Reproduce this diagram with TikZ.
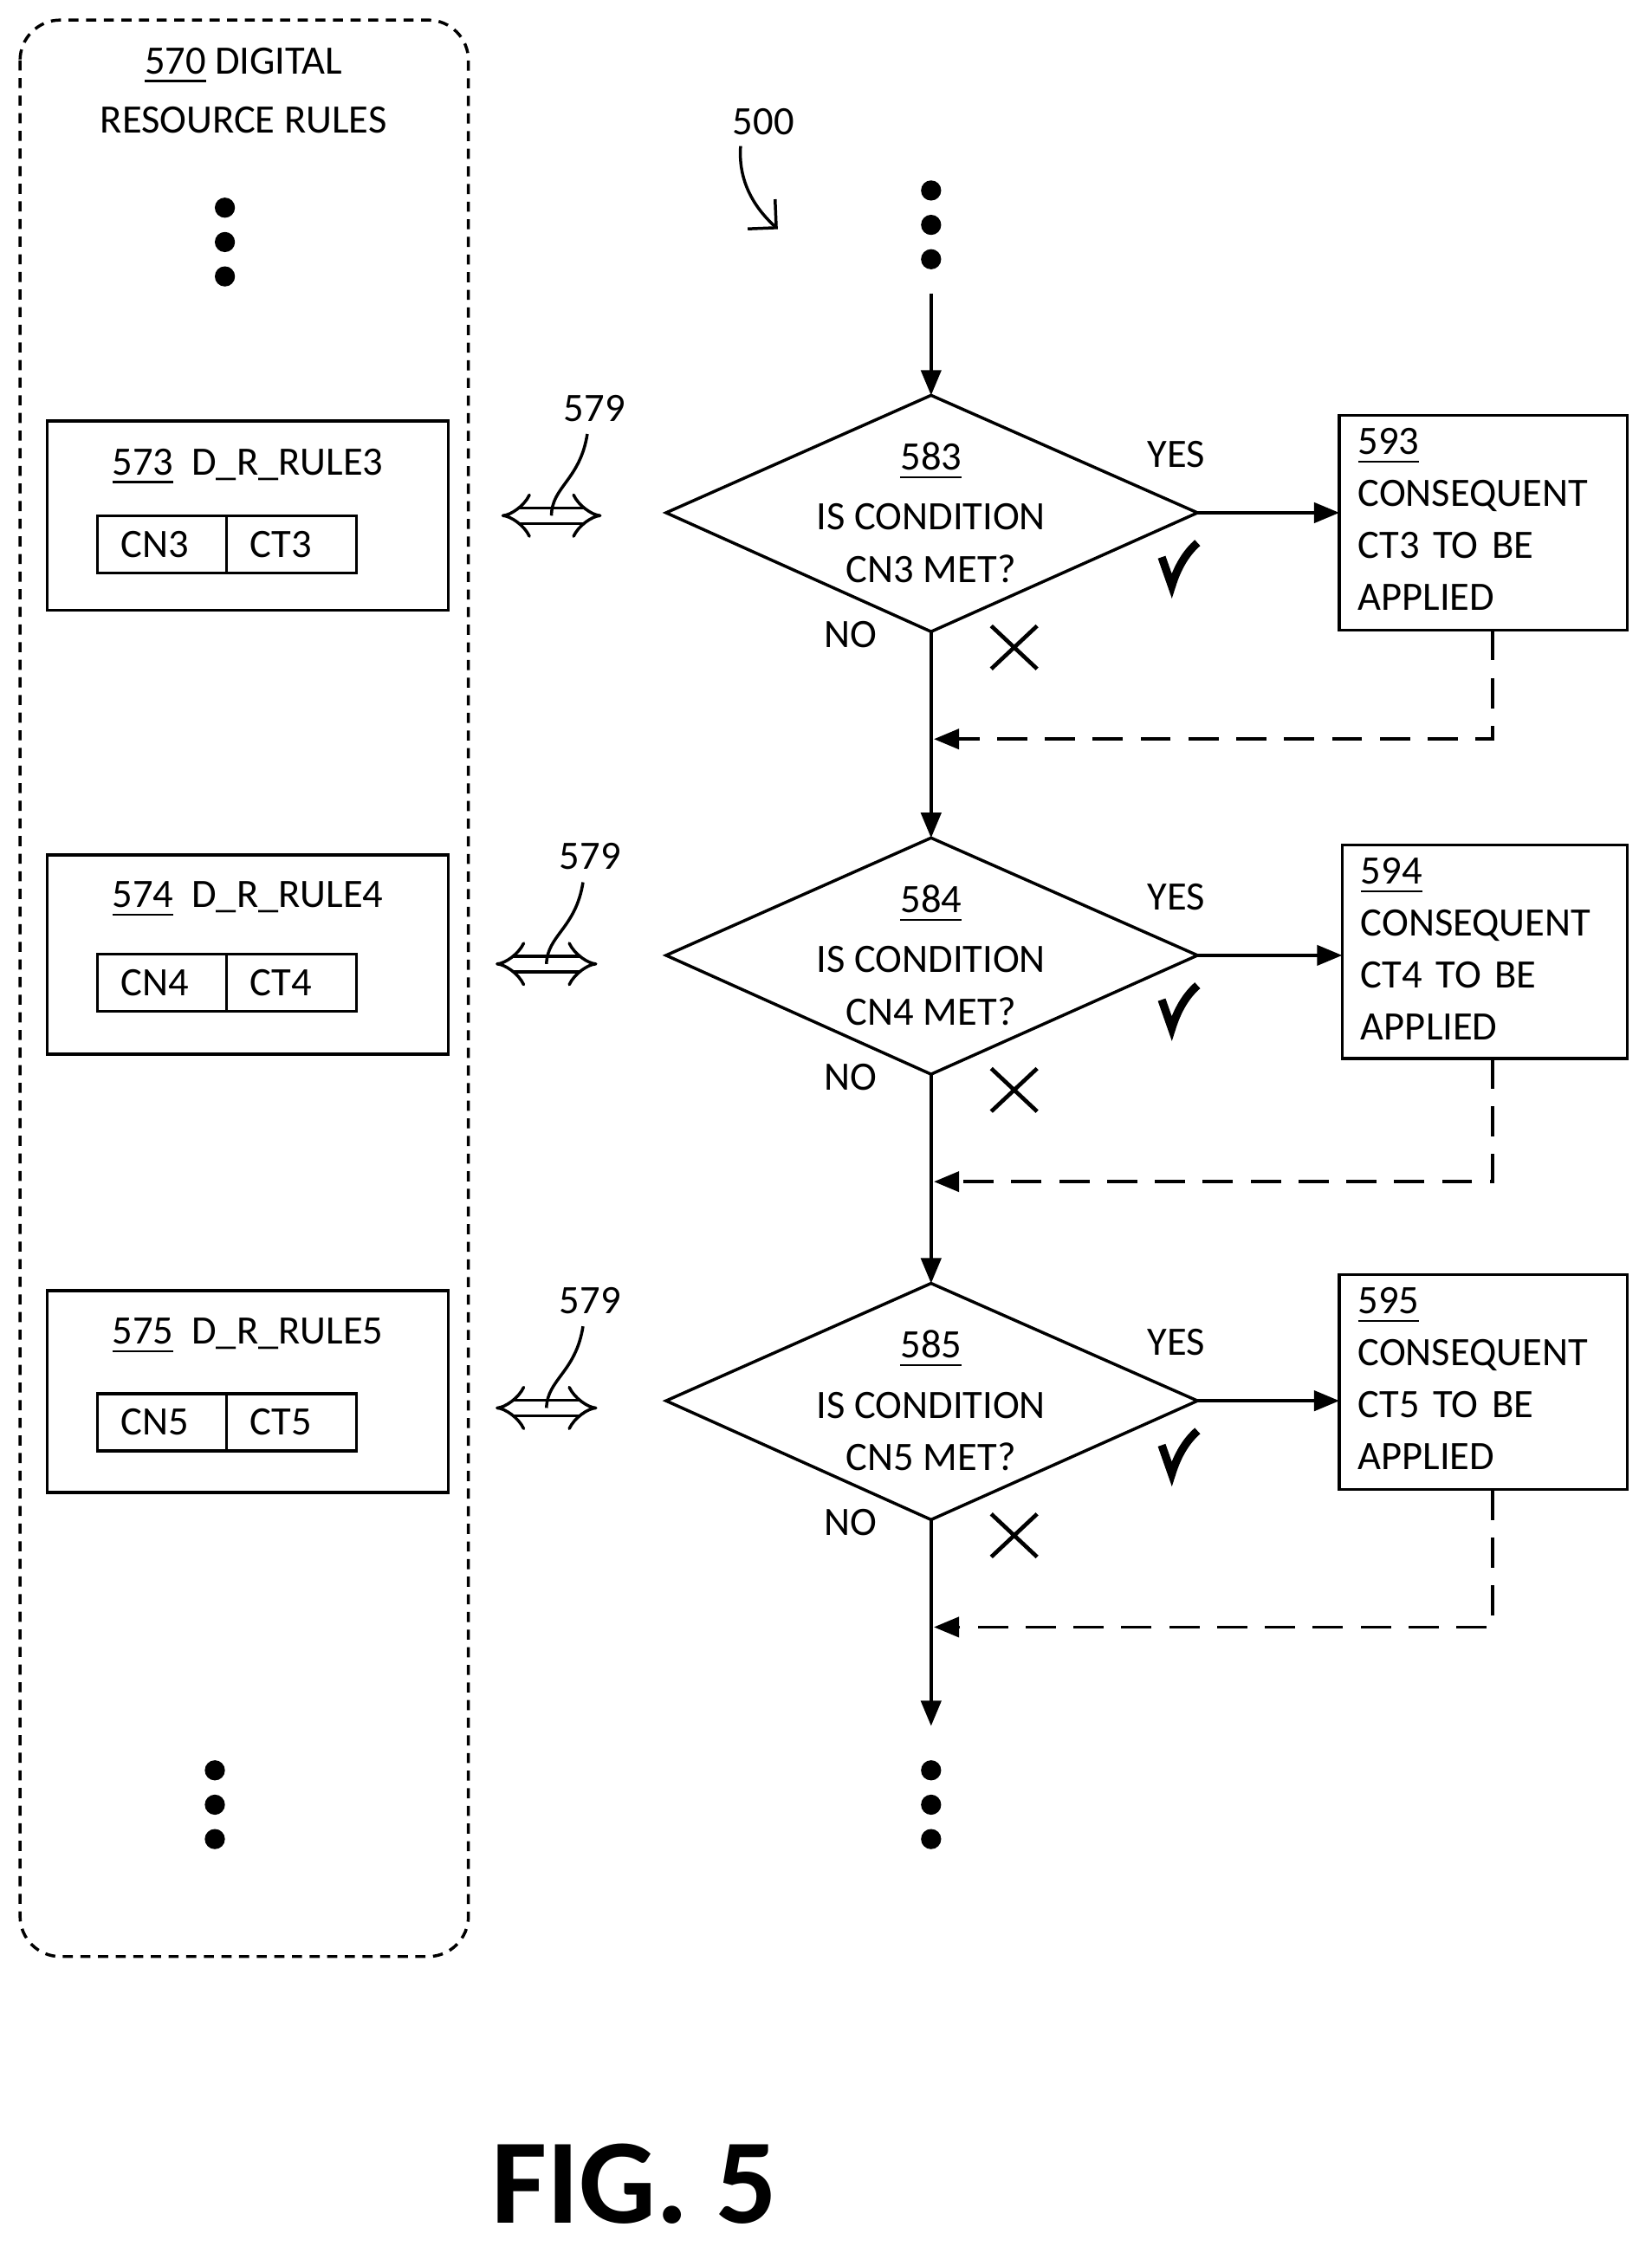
\documentclass[tikz,border=0pt]{standalone}
\usepackage{fontspec}
\setmainfont{Carlito}
\usetikzlibrary{arrows.meta,shapes.geometric}
\tikzset{
  txt/.style={font=\fontsize{8}{9.6}\selectfont, inner sep=0pt},
  flow/.style={-{Triangle[length=5pt,width=4pt]}},
  back/.style={dash pattern=on 6pt off 3.5pt, -{Triangle[length=5pt,width=4pt]}},
  dbl/.style={double, double distance=2.5pt, {Implies}-{Implies}},
  dot/.style={circle, fill, inner sep=0pt, minimum size=4pt},
}
\begin{document}
\begin{tikzpicture}[x=0.01cm,y=-0.01cm,line width=0.6pt]
\useasboundingbox (0,0) rectangle (1153,1573);
%规则列
\draw [rounded corners=8pt, dash pattern=on 2pt off 1.5pt] (14,14) rectangle (327,1366);
\node[txt] (t570a) at (170,46) {\underline{570} DIGITAL};
\node[txt] (t570b) at (170,84) {RESOURCE RULES};
\foreach \y in {145,169,193} \node[dot] at (157,\y) {};
\foreach \y in {1236,1260,1284} \node[dot] at (150,\y) {};
%规则框
\foreach \n/\top/\bot/\ty/\cy in {3/294/426/326/380, 4/597/736/628/686, 5/901/1042/933/993}{
  \draw (33,\top) rectangle (313,\bot);
  \node[txt] at (173,\ty) {\underline{57\n}\ \ D\_R\_RULE\n};
  \draw (68,\cy-20) rectangle (249,\cy+20);
  \draw (158,\cy-20) -- (158,\cy+20);
  \node[txt] at (108,\cy) {CN\n};
  \node[txt] at (196,\cy) {CT\n};
}
%双箭头
\foreach \y/\xa/\xb/\ly in {360/350/420/285, 673/346/417/598, 983/346/417/908}{
  \draw[dbl] (\xa,\y) -- (\xb,\y);
  \node[txt] (l579) at (\xb-5,\ly) {579};
  \draw (\xb-10,\ly+18) .. controls (\xb-15,\ly+50) and (\xb-35,\ly+55) .. ({(\xa+\xb)/2},\y);
}
%500
\node[txt] (t500) at (533,85) {500};
\draw[-{Straight Barb[length=4pt]}] (517,102) .. controls (515,130) and (530,148) .. (543,160);
%流程
\foreach \y in {133,157,181} \node[dot] at (650,\y) {};
\foreach \y in {1236,1260,1284} \node[dot] at (650,\y) {};
\coordinate (start) at (650,205);
\coordinate (stop) at (650,1205);
\foreach \n/\cy/\bx/\bt/\bb/\dy in {3/358/935/290/440/516, 4/667/937/590/739/825, 5/978/935/890/1040/1136}{
  \draw (650,\cy-82) coordinate (d\n t) -- (836,\cy) coordinate (d\n r) -- (650,\cy+83) coordinate (d\n b) -- (465,\cy) -- cycle;
  \node[txt] at (650,\cy-36) {\underline{58\n}};
  \node[txt] at (650,\cy+3) {IS CONDITION};
  \node[txt] at (650,\cy+39) {CN\n\ MET?};
  \node[txt] at (821,\cy-41) {YES};
  \node[txt] at (594,\cy+85) {NO};
  \draw (\bx,\bt) rectangle (1136,\bb);
  \coordinate (b\n l) at (\bx,\cy);
  \node[txt, anchor=north west, align=left, text width=190*0.01cm, font=\fontsize{8}{10.3}\selectfont] at (\bx+12,\bt+8) {\underline{59\n}\\CONSEQUENT\\CT\n\ TO BE\\APPLIED};
  \draw[flow] (d\n r) -- (b\n l);
  \draw[back] (1042,\bb) -- (1042,\dy) -- (652,\dy);
  %勾与叉
  \draw[line width=1.6pt] (811,\cy+31) -- (818,\cy+51) .. controls (822,\cy+38) and (828,\cy+28) .. (836,\cy+21);
  \draw[line width=0.8pt] (692,\cy+79) -- (724,\cy+109) (724,\cy+79) -- (692,\cy+109);
}
\draw[flow] (start) -- (d3t);
\draw[flow] (d3b) -- (d4t);
\draw[flow] (d4b) -- (d5t);
\draw[flow] (d5b) -- (stop);
%图名
\node[inner sep=0pt, font=\fontsize{24}{28}\bfseries] (fig) at (443,1525) {FIG. 5};
\end{tikzpicture}
\end{document}
